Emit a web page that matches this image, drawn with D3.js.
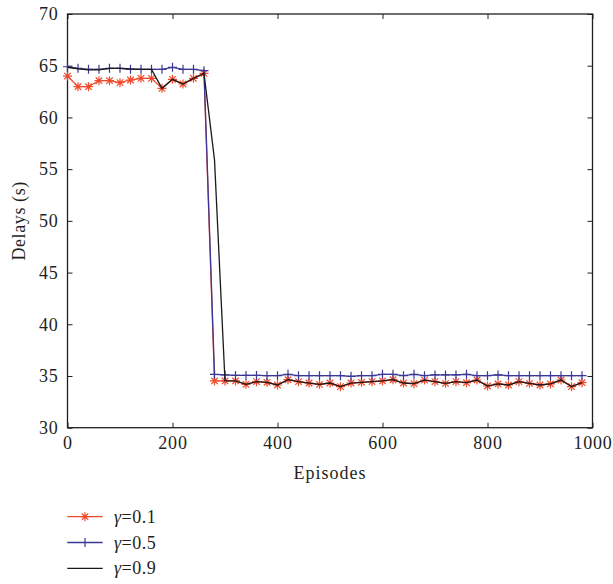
<!DOCTYPE html>
<html>
<head>
<meta charset="utf-8">
<script src="https://cdn.jsdelivr.net/npm/d3@7.9.0/dist/d3.min.js"></script>
<style>
  html, body { margin: 0; padding: 0; background: #fff; }
  svg { display: block; }
  text { font-family: "Liberation Serif", serif; }
</style>
</head>
<body>
<svg id="chart" width="613" height="584"></svg>
<script>
// Episodes sampled every 20
const episodes = d3.range(0, 1000, 20);

const gamma01 = [
  64.0, 62.97, 62.97, 63.55, 63.55, 63.36, 63.62, 63.78, 63.78, 62.81,
  63.68, 63.23, 63.78, 64.26, 34.52, 34.52, 34.52, 34.19, 34.45, 34.39,
  34.13, 34.64, 34.45, 34.32, 34.19, 34.32, 33.97, 34.32, 34.39, 34.45,
  34.52, 34.64, 34.32, 34.26, 34.6, 34.45, 34.29, 34.45, 34.35, 34.61,
  34.03, 34.23, 34.13, 34.45, 34.29, 34.13, 34.23, 34.61, 33.97, 34.35
];
const gamma05 = [
  64.9, 64.75, 64.65, 64.65, 64.75, 64.75, 64.65, 64.65, 64.65, 64.65,
  64.84, 64.65, 64.65, 64.52, 35.16, 35.1, 35.05, 35.05, 35.05, 35.03,
  35.03, 35.16, 35.03, 35.03, 35.03, 35.03, 35.03, 34.97, 35.03, 35.03,
  35.16, 35.16, 35.03, 35.16, 35.03, 35.1, 35.1, 35.1, 35.16, 35.03,
  35.03, 35.1, 35.03, 35.03, 35.03, 35.03, 35.03, 35.03, 35.03, 35.03
];
const gamma09 = [
  64.85, 64.7, 64.6, 64.6, 64.75, 64.75, 64.7, 64.65, 64.65, 62.81,
  63.68, 63.23, 63.78, 64.26, 55.9, 34.52, 34.52, 34.19, 34.45, 34.39,
  34.13, 34.64, 34.45, 34.32, 34.19, 34.32, 33.97, 34.32, 34.39, 34.45,
  34.52, 34.64, 34.32, 34.26, 34.6, 34.45, 34.29, 34.45, 34.35, 34.61,
  34.03, 34.23, 34.13, 34.45, 34.29, 34.13, 34.23, 34.61, 33.97, 34.35
];

const xTicks = [0, 200, 400, 600, 800, 1000];
const yTicks = [30, 35, 40, 45, 50, 55, 60, 65, 70];
const seriesNames = ["0.1", "0.5", "0.9"];

const series = [
  { name: seriesNames[0], values: gamma01, color: "#f04a2c", marker: "star" },
  { name: seriesNames[1], values: gamma05, color: "#3b3796", marker: "plus" },
  { name: seriesNames[2], values: gamma09, color: "#1a1a1a", marker: null }
];

const svg = d3.select("#chart");
const L = 67.5, R = 592.5, T = 14, B = 427.7;
const ink = "#231f20";
const FONT = "Liberation Serif, serif";
const FS = 18;

const x = d3.scaleLinear().domain([0, 1000]).range([L, R]);
const y = d3.scaleLinear().domain([30, 70]).range([B, T]);

// Axes (ticks point inward)
const gx = svg.append("g").attr("transform", `translate(0,${B})`)
  .call(d3.axisBottom(x).tickValues(xTicks).tickSize(-5).tickPadding(9)
    .tickFormat(d3.format("d")));
const gxTop = svg.append("g").attr("transform", `translate(0,${T})`)
  .call(d3.axisTop(x).tickValues(xTicks).tickSize(-5).tickFormat(""));
const gy = svg.append("g").attr("transform", `translate(${L},0)`)
  .call(d3.axisLeft(y).tickValues(yTicks).tickSize(-5).tickPadding(9));
const gyR = svg.append("g").attr("transform", `translate(${R},0)`)
  .call(d3.axisRight(y).tickValues(yTicks).tickSize(-5).tickFormat(""));

[gx, gxTop, gy, gyR].forEach((g) => {
  g.attr("font-family", FONT).attr("font-size", FS);
  g.select(".domain").remove();
  g.selectAll("line").attr("stroke", ink).attr("stroke-width", 1);
  g.selectAll("text").attr("fill", ink).attr("letter-spacing", 0.8);
});

// box
svg.append("rect")
  .attr("x", L).attr("y", T).attr("width", R - L).attr("height", B - T)
  .attr("fill", "none").attr("stroke", ink).attr("stroke-width", 1.3);

// axis titles
svg.append("text")
  .attr("x", (L + R) / 2).attr("y", 479)
  .attr("text-anchor", "middle").attr("font-family", FONT).attr("font-size", FS)
  .attr("letter-spacing", 1).attr("fill", ink)
  .text("Episodes");
svg.append("text")
  .attr("transform", `translate(25,${(T + B) / 2}) rotate(-90)`)
  .attr("text-anchor", "middle").attr("font-family", FONT).attr("font-size", FS)
  .attr("letter-spacing", 0.6).attr("fill", ink)
  .text("Delays (s)");

function drawMarker(g, type, cx, cy, color) {
  const r = 4.5;
  if (type === "plus") {
    g.append("path")
      .attr("d", `M${cx - r},${cy}H${cx + r}M${cx},${cy - r}V${cy + r}`)
      .attr("stroke", color).attr("stroke-width", 1.2).attr("fill", "none");
  } else if (type === "star") {
    const d = r * 0.72;
    g.append("path")
      .attr("d", `M${cx - r},${cy}H${cx + r}M${cx},${cy - r}V${cy + r}` +
        `M${cx - d},${cy - d}L${cx + d},${cy + d}M${cx - d},${cy + d}L${cx + d},${cy - d}`)
      .attr("stroke", color).attr("stroke-width", 1.2).attr("fill", "none");
  }
}

const line = d3.line().x((d) => x(d[0])).y((d) => y(d[1]));

series.forEach((s) => {
  const pts = episodes.map((e, i) => [e, s.values[i]]);
  const g = svg.append("g");
  g.append("path")
    .attr("d", line(pts))
    .attr("fill", "none").attr("stroke", s.color).attr("stroke-width", 1.3);
  if (s.marker) pts.forEach((p) => drawMarker(g, s.marker, x(p[0]), y(p[1]), s.color));
});

// Legend
const lg = svg.append("g");
series.forEach((s, i) => {
  const ly = 516.7 + i * 25.8;
  lg.append("line").attr("x1", 67.3).attr("x2", 102.7).attr("y1", ly).attr("y2", ly)
    .attr("stroke", s.color).attr("stroke-width", 1.3);
  if (s.marker) drawMarker(lg, s.marker, 85, ly, s.color);
  const t = lg.append("text").attr("x", 114).attr("y", ly + 6)
    .attr("font-family", FONT).attr("font-size", FS).attr("letter-spacing", 0.5)
    .attr("fill", ink);
  t.append("tspan").attr("font-style", "italic").text("γ");
  t.append("tspan").text("=" + s.name);
});
</script>
</body>
</html>
